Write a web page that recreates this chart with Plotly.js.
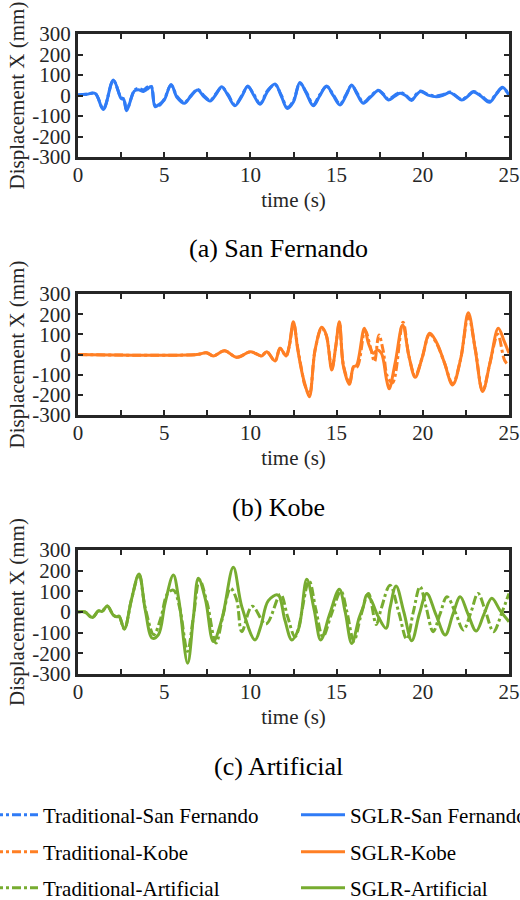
<!DOCTYPE html>
<html>
<head>
<meta charset="utf-8">
<script src="https://cdn.plot.ly/plotly-3.0.1.min.js"></script>
<style>
  html, body { margin: 0; padding: 0; background: #fff; }
  #chart { width: 520px; height: 900px; }
</style>
</head>
<body>
<div id="chart"></div>
<script>
// ---- San Fernando record: displacement X (mm) vs time (s) ----
const sfTime = [0,0.5,1.0,1.47,2.05,2.5,2.65,2.82,3.27,3.5,3.8,4.0,4.24,4.47,4.7,5.0,5.4,5.75,6.17,6.5,6.94,7.3,7.66,8.0,8.34,8.7,9.1,9.5,9.85,10.2,10.56,11.0,11.43,11.8,12.14,12.5,12.87,13.25,13.65,14.0,14.42,14.8,15.2,15.55,15.87,16.2,16.55,17.0,17.42,17.7,18.0,18.35,18.68,19.0,19.35,19.6,19.87,20.3,20.8,21.2,21.58,21.9,22.26,22.6,22.94,23.4,23.86,24.25,24.62,25.0];
const sfSGLR = [3,6,10,-68,76,-14,-19,-74,22,28,20,30,44,-54,-44,-22,54,-10,-38,-8,27,-5,-27,5,43,0,-50,-5,46,0,-43,20,56,-5,-63,-30,63,10,-50,-5,46,0,-46,0,51,5,-38,-5,24,5,-22,-5,11,0,-25,0,19,2,-6,2,14,-2,-22,-5,17,-5,-33,5,40,0];
const sfTrad = [3,6,10,-64,72,-10,-16,-70,25,35,28,40,46,-48,-50,-18,50,-5,-34,-5,30,0,-24,8,40,5,-46,0,43,5,-40,25,52,0,-58,-25,58,15,-45,0,44,5,-42,5,48,10,-33,0,26,8,-18,0,15,2,-20,5,22,5,-2,5,17,0,-19,-2,20,-2,-28,8,36,5];

// ---- Kobe record ----
const kobeTimeSGLR = [0,6.9,7.45,7.85,8.5,9.2,10,10.3,10.65,10.95,11.43,11.72,12.07,12.25,12.49,12.75,12.98,13.15,13.42,13.75,14.14,14.4,14.72,14.95,15.16,15.4,15.75,15.98,16.15,16.61,16.85,17.13,17.36,17.6,17.9,18.05,18.4,18.83,19.2,19.56,19.95,20.4,20.8,21.25,21.73,22.2,22.64,23.05,23.47,23.9,24.38,24.7,25.0];
const kobeSGLR = [0,0,9,-7,19,-14,14,5,-7,14,-32,31,-7,40,163,22,-85,-143,-209,22,135,97,-77,40,163,-60,-148,-60,-55,130,55,6,22,6,-126,-170,-40,146,-10,-113,-20,105,60,-40,-151,-20,207,20,-184,-40,130,70,6];
const kobeTimeTrad = [0,6.9,7.45,7.85,8.5,9.2,10,10.3,10.65,10.95,11.43,11.72,12.07,12.25,12.5,12.75,12.98,13.15,13.42,13.75,14.14,14.4,14.72,14.95,15.16,15.4,15.75,15.98,16.2,16.65,16.95,17.2,17.45,17.7,17.95,18.25,18.85,19.2,19.56,19.95,20.4,20.8,21.25,21.73,22.2,22.64,23.05,23.47,23.9,24.35,24.75,25.0];
const kobeTrad = [0,0,9,-7,19,-14,14,5,-7,14,-32,31,-7,40,155,30,-80,-150,-195,22,130,95,-70,40,155,-55,-140,-65,-60,120,40,-35,97,20,-110,-140,160,-10,-105,-20,100,55,-40,-145,-20,190,25,-180,-40,100,-30,-55];

// ---- Artificial record ----
const artTimeSGLR = [0,0.4,0.83,1.18,1.4,1.7,2.05,2.25,2.38,2.69,3.1,3.54,3.9,4.31,4.66,5.05,5.53,5.85,6.36,6.7,6.98,7.4,7.85,8.36,9.01,9.5,10.27,10.6,11.04,11.6,12.0,12.4,12.8,13.27,13.7,14.08,14.6,15.16,15.5,15.88,16.3,16.55,16.75,17.0,17.4,17.87,18.1,18.45,18.9,19.36,19.8,20.23,20.75,21.3,21.75,22.17,22.6,23.1,23.55,24.0,24.5,25.0];
const artSGLR = [0,0,-27,5,3,29,-15,-23,-20,-82,60,184,10,-127,-111,42,179,58,-248,-20,163,58,-143,-30,216,26,-135,-70,55,82,-39,-135,-80,158,10,-135,-10,110,0,-152,-30,26,82,58,-20,-79,20,126,0,-139,-10,90,-10,-111,-10,74,-5,-92,-10,66,5,-47];
const artTimeTrad = [0,0.4,0.83,1.18,1.4,1.7,2.05,2.25,2.38,2.69,3.1,3.54,3.9,4.4,4.8,5.2,5.55,5.9,6.35,6.7,7.05,7.5,8.0,8.4,8.85,9.2,9.5,10.1,10.9,11.75,12.15,12.6,13.4,13.8,14.2,14.7,15.25,15.6,16.0,16.4,16.85,17.3,17.6,18.1,18.6,19.07,19.45,19.84,20.2,20.6,21.0,21.4,21.9,22.35,22.8,23.2,23.65,24.1,24.6,25.0];
const artTrad = [0,0,-27,5,3,29,-15,-23,-20,-82,60,180,20,-110,-30,90,105,20,-190,-20,155,40,-150,-20,115,60,-95,28,-58,85,-20,-120,150,10,-120,-10,100,0,-140,-20,90,-60,20,130,0,-132,0,123,20,-95,-10,74,-5,-87,0,90,0,-95,0,90];

// Axis ticks
const xTickVals = [0,2.5,5,7.5,10,12.5,15,17.5,20,22.5,25];
const xTickText = ['0','','5','','10','','15','','20','','25'];
const yTickVals = [-300,-200,-100,0,100,200,300];
const yTickText = ['-300','-200','-100','0','100','200','300'];

// Captions and names
const captions = ['(a) San Fernando', '(b) Kobe', '(c) Artificial'];
const tradNames = ['Traditional-San Fernando', 'Traditional-Kobe', 'Traditional-Artificial'];
const sglrNames = ['SGLR-San Fernando', 'SGLR-Kobe', 'SGLR-Artificial'];

const colors = ['#2f7bf6', '#ff7f24', '#77ac30'];
const FONT = '"Times New Roman", "Liberation Serif", Times, serif';
const INK = '#262626';

const records = [
  {tT: sfTime, yT: sfTrad, tS: sfTime, yS: sfSGLR},
  {tT: kobeTimeTrad, yT: kobeTrad, tS: kobeTimeSGLR, yS: kobeSGLR},
  {tT: artTimeTrad, yT: artTrad, tS: artTimeSGLR, yS: artSGLR}
];

// One legend per entry so the two columns can be placed freely
const traces = [];
records.forEach((r, i) => {
  const ax = i === 0 ? '' : String(i + 1);
  traces.push({
    x: r.tT, y: r.yT, type: 'scatter', mode: 'lines', name: tradNames[i],
    xaxis: 'x' + ax, yaxis: 'y' + ax, legend: i === 0 ? 'legend' : 'legend' + (2 * i + 1),
    line: {color: colors[i], width: 3, dash: 'dashdot', shape: 'spline', smoothing: 1}
  });
  traces.push({
    x: r.tS, y: r.yS, type: 'scatter', mode: 'lines', name: sglrNames[i],
    xaxis: 'x' + ax, yaxis: 'y' + ax, legend: 'legend' + (2 * i + 2),
    line: {color: colors[i], width: 3, shape: 'spline', smoothing: 1}
  });
});

// Plot areas in pixels (top, bottom) on a 900px tall page, 431px wide from x=78
const H = 900, PL = 78, PW = 431;
const panels = [[34, 157], [294, 415], [550, 674]];
const captionY = [248, 507, 766];
const legendRowY = [815, 852, 888];
const legendColX = [-11, 296];

const layout = {
  width: 520, height: 900,
  margin: {l: PL, r: 520 - PL - PW, t: 0, b: 0, autoexpand: false},
  paper_bgcolor: '#fff', plot_bgcolor: '#fff',
  font: {family: FONT, size: 20, color: INK},
  showlegend: true,
  annotations: []
};

panels.forEach((p, i) => {
  const ax = i === 0 ? '' : String(i + 1);
  layout['xaxis' + ax] = {
    domain: [0, 1], range: [0, 25], anchor: 'y' + ax,
    tickmode: 'array', tickvals: xTickVals, ticktext: xTickText,
    ticks: 'inside', ticklen: 5, tickwidth: 2, tickcolor: INK,
    showline: true, linewidth: 3, linecolor: INK, mirror: 'ticks',
    showgrid: false, zeroline: false, ticklabelstandoff: -3,
    tickfont: {family: FONT, size: 21, color: INK},
    title: {text: 'time (s)', font: {family: FONT, size: 21, color: INK}, standoff: 7}
  };
  layout['yaxis' + ax] = {
    domain: [(H - p[1]) / H, (H - p[0]) / H], range: [-300, 300], anchor: 'x' + ax,
    tickmode: 'array', tickvals: yTickVals, ticktext: yTickText,
    ticks: 'inside', ticklen: 5, tickwidth: 2, tickcolor: INK,
    showline: true, linewidth: 3, linecolor: INK, mirror: 'ticks',
    showgrid: false, zeroline: false,
    tickfont: {family: FONT, size: 21, color: INK},
    title: {text: 'Displacement X (mm)', font: {family: FONT, size: 21, color: INK}, standoff: 2}
  };

  layout.annotations.push({
    text: captions[i], xref: 'paper', yref: 'paper',
    x: (278 - PL) / PW, y: (H - captionY[i]) / H,
    xanchor: 'center', yanchor: 'middle', showarrow: false,
    font: {family: FONT, size: 26, color: '#000'}
  });

  [0, 1].forEach(c => {
    const n = 2 * i + c + 1;
    layout[n === 1 ? 'legend' : 'legend' + n] = {
      orientation: 'h', x: (legendColX[c] - PL) / PW, xanchor: 'left',
      y: (H - legendRowY[i]) / H, yanchor: 'middle', itemwidth: 44,
      font: {family: FONT, size: 21, color: '#000'},
      bgcolor: 'rgba(0,0,0,0)', borderwidth: 0
    };
  });
});

Plotly.newPlot('chart', traces, layout, {staticPlot: true, displayModeBar: false});
</script>
</body>
</html>
